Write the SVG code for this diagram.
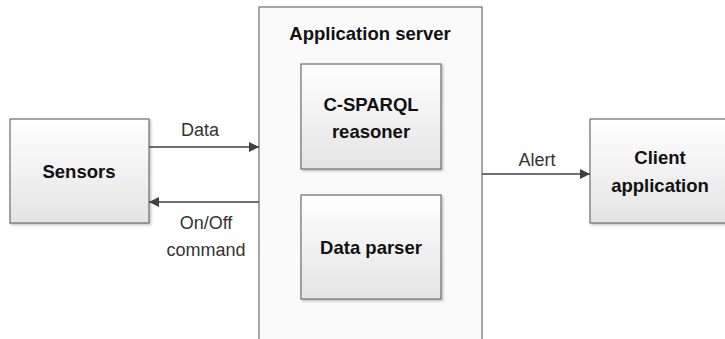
<svg xmlns="http://www.w3.org/2000/svg" width="725" height="339" viewBox="0 0 725 339">
<defs>
<linearGradient id="g" x1="0" y1="0" x2="0" y2="1">
<stop offset="0" stop-color="#ffffff"/>
<stop offset="1" stop-color="#e4e4e4"/>
</linearGradient>
<filter id="sh" x="-10%" y="-10%" width="130%" height="130%">
<feDropShadow dx="1.5" dy="1.5" stdDeviation="1" flood-color="#000" flood-opacity="0.25"/>
</filter>
<marker id="ah" viewBox="0 0 10 10" refX="10" refY="5" markerWidth="10" markerHeight="10" markerUnits="userSpaceOnUse" orient="auto">
<path d="M0,0 L10,5 L0,10 z" fill="#404040"/>
</marker>
</defs>
<style>
.box{fill:url(#g);stroke:#6d6d6d;stroke-width:1.2;filter:url(#sh)}
.srv{fill:#fafafa;stroke:#6d6d6d;stroke-width:1.2}
.t{font-family:"Liberation Sans",Arial,sans-serif;font-size:18.5px;font-weight:bold;fill:#111;text-anchor:middle}
.l{font-family:"Liberation Sans",Arial,sans-serif;font-size:18px;fill:#333;text-anchor:middle}
.c{stroke:#404040;stroke-width:1.3;fill:none;marker-end:url(#ah)}
</style>
<rect width="725" height="339" fill="#ffffff"/>
<g id="app-server">
<rect class="srv" x="259" y="7" width="223" height="340"/>
<text class="t" x="370" y="40">Application server</text>
</g>
<g id="csparql">
<rect class="box" x="301" y="64" width="140" height="105"/>
<text class="t" x="371" y="111">C-SPARQL</text>
<text class="t" x="371" y="138">reasoner</text>
</g>
<g id="parser">
<rect class="box" x="301" y="195" width="140" height="104"/>
<text class="t" x="371" y="254">Data parser</text>
</g>
<g id="sensors">
<rect class="box" x="10" y="119" width="139" height="104"/>
<text class="t" x="79" y="178">Sensors</text>
</g>
<g id="client">
<rect class="box" x="590" y="119" width="140" height="104"/>
<text class="t" x="660" y="164">Client</text>
<text class="t" x="660" y="192">application</text>
</g>
<g id="connectors">
<line class="c" x1="149" y1="147" x2="259" y2="147"/>
<text class="l" x="200" y="136">Data</text>
<line class="c" x1="259" y1="202" x2="149" y2="202"/>
<text class="l" x="206" y="229">On/Off</text>
<text class="l" x="206" y="256">command</text>
<line class="c" x1="482" y1="174" x2="590" y2="174"/>
<text class="l" x="537" y="166">Alert</text>
</g>
</svg>
